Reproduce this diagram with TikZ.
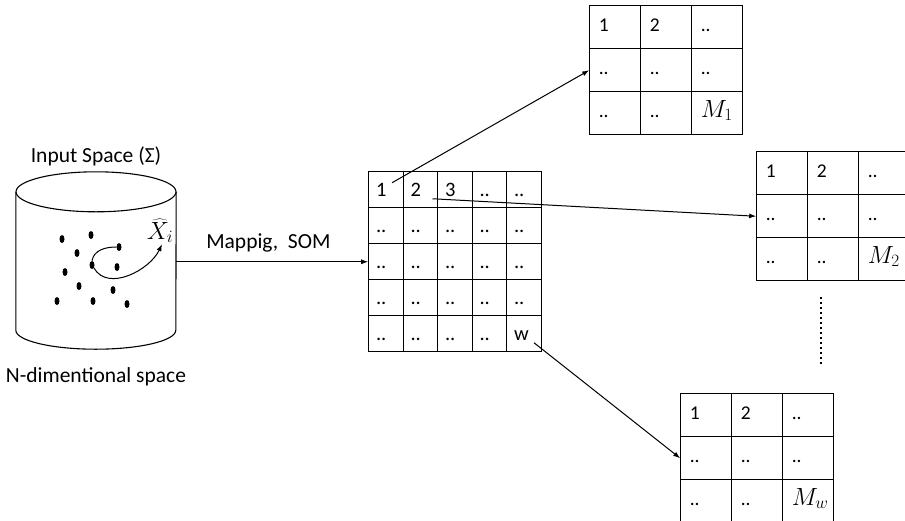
\documentclass[tikz,border=0pt]{standalone}
\usepackage{fontspec}
\setmainfont{Carlito}
\usetikzlibrary{positioning,shapes.geometric,arrows.meta,matrix}

\newcommand{\mapname}[1]{\fontsize{25}{28}\selectfont$M_{#1}$}

\tikzset{
  somcell/.style={draw, line width=1.1pt, minimum width=34.5pt, minimum height=36pt,
    text width=20pt, inner xsep=7pt, align=left, text height=13pt, text depth=0pt,
    font=\fontsize{20.5}{24}\selectfont},
  mapcell/.style={draw, line width=1.1pt, minimum width=51pt, minimum height=43pt,
    text width=33pt, inner xsep=9pt, align=left, text height=8pt, text depth=0pt,
    font=\fontsize{19.5}{23}\selectfont},
  grid/.style={matrix of nodes, inner sep=0pt, column sep=-1.1pt, row sep=-1.1pt, anchor=north west},
  pt/.style={fill, ellipse, inner sep=0pt, minimum width=5pt, minimum height=8pt},
  link/.style={line width=1pt, -{Latex[length=7pt,width=5pt]}}
}

\begin{document}
\begin{tikzpicture}[x=1pt, y=-1pt, node distance=8pt, font=\fontsize{21.5}{25}\selectfont]
      \useasboundingbox (0,0) rectangle (905,520);
      %% data base (cylinder)
      \node[minimum width=160pt, minimum height=138pt, inner sep=0pt] (db) at (96,261) {};
      \draw[line width=1.1pt] (db.north west) -- (db.south west)
            arc[start angle=180, end angle=360, x radius=80pt, y radius=19pt] -- (db.north east);
      \draw[line width=1.1pt] (db.north) ellipse[x radius=80pt, y radius=20pt];
      \node (inp) [above=22pt of db.north] {Input Space (Σ)};
      \node (ndim) [below=34pt of db.south] {N-dimentional space};
      %% points
      \node[pt] (d1) at (62,239) {};
      \node[pt] (d2) at (91,235) {};
      \node[pt] (d3) at (77,253) {};
      \node[pt] (d4) at (119,247) {};
      \node[pt] (d5) at (92,265) {};
      \node[pt] (d6) at (117,267) {};
      \node[pt] (d7) at (65,272) {};
      \node[pt] (d8) at (79,286) {};
      \node[pt] (d9) at (113,290) {};
      \node[pt] (d10) at (57,301) {};
      \node[pt] (d11) at (93,301) {};
      \node[pt] (d12) at (127,304) {};
      \node[inner sep=1pt, font=\fontsize{25}{28}\selectfont] (xhat) at (160,231) {$\widehat{X}_i$};
      \draw[line width=1pt] (d5.north) to[out=80, in=180] (d4.west);
      \draw[link] (d5.south east) to[out=-60, in=-115] ([xshift=2pt]xhat.south);
      %% SOM grid
      \matrix[grid, nodes={somcell}] (som) at (368,171) {
        1 & 2 & 3 & .. & .. \\
        .. & .. & .. & .. & .. \\
        .. & .. & .. & .. & .. \\
        .. & .. & .. & .. & .. \\
        .. & .. & .. & .. & w \\
      };
      \draw[link] (db.east |- som-3-1.west) to node[above=6pt, pos=0.48] {Mappig,\ \ SOM} (som-3-1.west);
      %% maps
      \matrix[grid, nodes={mapcell}] (m1) at (589,5) {
        1 & 2 & .. \\
        .. & .. & .. \\
        .. & .. & \mapname{1} \\
      };
      \matrix[grid, nodes={mapcell}] (m2) at (756,151) {
        1 & 2 & .. \\
        .. & .. & .. \\
        .. & .. & \mapname{2} \\
      };
      \matrix[grid, nodes={mapcell}] (mw) at (680,393) {
        1 & 2 & .. \\
        .. & .. & .. \\
        .. & .. & \mapname{w} \\
      };
      \draw[link] ([shift={(6pt,7pt)}]som-1-1.center) to (m1-2-1.west);
      \draw[link] ([shift={(12pt,-9pt)}]som-1-2.center) to (m2-2-1.west);
      \draw[link] ([shift={(10pt,-9pt)}]som-5-5.center) to (mw-2-1.west);
      %% more maps
      \coordinate (dotA) at (821,297);
      \coordinate (dotB) at (821,364);
      \draw[line width=2.3pt, dash pattern=on 2.3pt off 2.7pt] (dotA) -- (dotB);
\end{tikzpicture}
\end{document}
